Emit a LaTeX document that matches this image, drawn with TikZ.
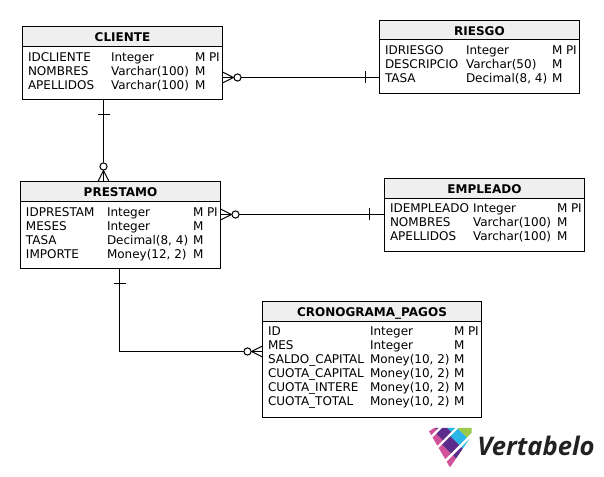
\documentclass[tikz,border=0pt]{standalone}
\usepackage{fontspec}
\setmainfont{DejaVu Sans}
\newfontfamily\logofont{Open Sans}
\definecolor{hdr}{HTML}{EFEFEF}
\definecolor{lgpink}{HTML}{D0529B}
\definecolor{lgpurple}{HTML}{5B2C8C}
\definecolor{lgblue}{HTML}{29B5E8}
\definecolor{lggreen}{HTML}{9BC94B}
\definecolor{lgtext}{HTML}{222222}
\newcommand{\etable}[7]{%
  \node[tablebox,minimum width=#4*0.75pt,minimum height=#5*0.75pt] (#1) at (#2,#3) {};
  \node[headbox,minimum width=#4*0.75pt,minimum height=#6*0.75pt] (#1head) at (#2,#3) {\bfseries #7};
}
\newcommand{\ecol}[4]{% prefix, x, first baseline, list
  \foreach \t [count=\i] in {#4} {
    \node[cell] (#1\i) at (#2,{#3+14*(\i-1)}) {\t};
  }
}
\newcommand{\lgp}[5]{%
  \fill[#5] ({(#1+#3)/2},{(#1-#3)/2}) -- ({(#2+#3)/2},{(#2-#3)/2}) -- ({(#2+#4)/2},{(#2-#4)/2}) -- ({(#1+#4)/2},{(#1-#4)/2}) -- cycle;
}
\tikzset{
  x=0.75pt,y=-0.75pt,
  tablebox/.style={draw=black,fill=white,line width=0.8pt,anchor=north west,inner sep=0pt,outer sep=0pt},
  headbox/.style={draw=black,fill=hdr,line width=0.8pt,anchor=north west,inner sep=0pt,outer sep=0pt,text height=8pt,text depth=0pt,font=\fontsize{9pt}{10pt}\selectfont},
  cell/.style={anchor=base west,inner sep=0pt,outer sep=0pt,font=\fontsize{9pt}{10pt}\selectfont,text=black},
  conn/.style={draw=black,line width=0.75pt},
  crowfoot/.pic={
    \draw[conn] (0,-5.5) -- (11,0) (0,5.5) -- (11,0);
    \draw[conn,fill=white] (15,0) circle[radius=3.6];
  },
  onebar/.pic={\draw[conn] (0,-6) -- (0,6);},
}
\begin{document}
\begin{tikzpicture}
\useasboundingbox (0,0) rectangle (604,477);
\fill[white] (0,0) rectangle (604,477);

% tables
\etable{cliente}{22.5}{26.5}{200}{73}{20}{CLIENTE}
\ecol{clia}{28}{62}{IDCLIENTE,NOMBRES,APELLIDOS}
\ecol{clib}{111}{62}{Integer,Varchar(100),Varchar(100)}
\ecol{clic}{195}{62}{M,M,M}
\node[cell] (clid) at (209,62) {PI};

\etable{riesgo}{379.5}{20.5}{200}{73}{19}{RIESGO}
\ecol{riea}{385}{55}{IDRIESGO,DESCRIPCIO,TASA}
\ecol{rieb}{466}{55}{Integer,Varchar(50),{Decimal(8, 4)}}
\ecol{riec}{552}{55}{M,M,M}
\node[cell] (ried) at (566,55) {PI};

\etable{prestamo}{20.5}{181.5}{200}{87}{20}{PRESTAMO}
\ecol{prea}{26}{217}{IDPRESTAM,MESES,TASA,IMPORTE}
\ecol{preb}{107}{217}{Integer,Integer,{Decimal(8, 4)},{Money(12, 2)}}
\ecol{prec}{193}{217}{M,M,M,M}
\node[cell] (pred) at (207,217) {PI};

\etable{empleado}{384.5}{178.5}{200}{73}{20}{EMPLEADO}
\ecol{empa}{390}{213}{IDEMPLEADO,NOMBRES,APELLIDOS}
\ecol{empb}{473}{213}{Integer,Varchar(100),Varchar(100)}
\ecol{empc}{557}{213}{M,M,M}
\node[cell] (empd) at (571,213) {PI};

\etable{crono}{262.5}{301.5}{219}{116}{20}{CRONOGRAMA\_PAGOS}
\ecol{croa}{268}{336}{ID,MES,SALDO\_CAPITAL,CUOTA\_CAPITAL,CUOTA\_INTERE,CUOTA\_TOTAL}
\ecol{crob}{370}{336}{Integer,Integer,{Money(10, 2)},{Money(10, 2)},{Money(10, 2)},{Money(10, 2)}}
\ecol{croc}{454}{336}{M,M,M,M,M,M}
\node[cell] (crod) at (468,336) {PI};

% connectors
\coordinate (c1) at (cliente.east |- 0,77.5);
\coordinate (r1) at (riesgo.west |- 0,77.5);
\draw[conn] (c1) -- (r1);
\pic at (c1) {crowfoot};
\pic at (365.5,77.5) {onebar};

\coordinate (c2) at (cliente.south -| 103.5,0);
\coordinate (p2) at (prestamo.north -| 103.5,0);
\draw[conn] (c2) -- (p2);
\pic[rotate=90] at (103.5,114.5) {onebar};
\pic[rotate=90] at (p2) {crowfoot};

\coordinate (p3) at (prestamo.east |- 0,214.5);
\coordinate (e3) at (empleado.west |- 0,214.5);
\draw[conn] (p3) -- (e3);
\pic at (p3) {crowfoot};
\pic at (369.5,214.5) {onebar};

\coordinate (p4) at (prestamo.south -| 119.5,0);
\coordinate (k4) at (crono.west |- 0,351.5);
\draw[conn] (p4) |- (k4);
\pic[rotate=90] at (119.5,283.5) {onebar};
\pic[rotate=180] at (k4) {crowfoot};

% logo
\begin{scope}[shift={(425,424)},x=0.25pt,y=-0.25pt]
  \clip (12,22) -- (28,12) -- (140,12) -- (140,35) -- (75,130) -- cycle;
  \lgp{0}{52}{-200}{18}{lgpink}
  \lgp{0}{52}{18}{200}{lgpurple}
  \lgp{63}{102}{-200}{5}{lgpink}
  \lgp{63}{102}{5}{55}{lgpurple}
  \lgp{63}{102}{55}{200}{lgblue}
  \lgp{113}{166}{-200}{-10}{lgpink}
  \lgp{113}{166}{-10}{40}{lgpurple}
  \lgp{113}{166}{40}{85}{lgblue}
  \lgp{113}{166}{85}{200}{lggreen}
  \lgp{178}{260}{-200}{-10}{lgpink}
  \lgp{178}{260}{-10}{40}{lgpurple}
  \lgp{178}{260}{40}{85}{lgblue}
  \lgp{178}{260}{85}{200}{lggreen}
\end{scope}
\node[anchor=base west,inner sep=0pt,text=lgtext,font=\logofont\fontsize{19.2pt}{22pt}\selectfont\bfseries\itshape] (logo) at (477,456) {Vertabelo};
\end{tikzpicture}
\end{document}
